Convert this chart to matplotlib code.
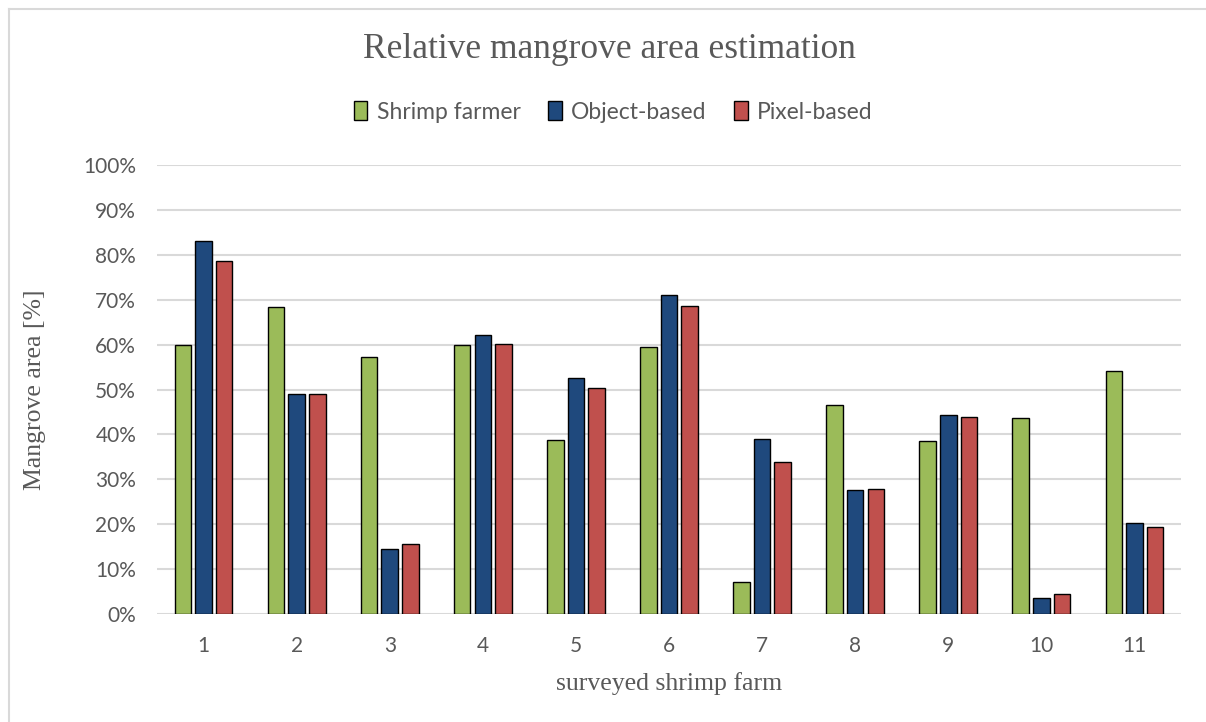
import matplotlib
matplotlib.use("Agg")
import matplotlib.pyplot as plt
from matplotlib.lines import Line2D
from matplotlib.patches import Patch
import numpy as np

categories = ["1", "2", "3", "4", "5", "6", "7", "8", "9", "10", "11"]
shrimp_farmer = [60.0, 68.4, 57.3, 60.0, 38.8, 59.5, 7.1, 46.5, 38.5, 43.7, 54.1]
object_based = [83.1, 49.1, 14.5, 62.1, 52.5, 71.0, 38.9, 27.6, 44.3, 3.5, 20.3]
pixel_based = [78.7, 48.9, 15.7, 60.1, 50.3, 68.7, 33.8, 27.8, 43.9, 4.4, 19.4]
series_names = ["Shrimp farmer", "Object-based", "Pixel-based"]
colors = ["#9BBB59", "#1F497D", "#C0504D"]
yticks = [0, 10, 20, 30, 40, 50, 60, 70, 80, 90, 100]
ytick_labels = [f"{v}%" for v in yticks]

W, H = 1206, 722
fig = plt.figure(figsize=(W / 100, H / 100), dpi=100)
fig.patch.set_facecolor("white")

ax = fig.add_axes([157 / W, 1 - 614 / H, (1181 - 157) / W, (614 - 165) / H])

x = np.arange(len(categories))
width = 0.178
offset = 0.222
for i, (vals, name, c) in enumerate(zip([shrimp_farmer, object_based, pixel_based], series_names, colors)):
    ax.bar(x + (i - 1) * offset, vals, width=width, color=c, edgecolor="black",
           linewidth=1.0, label=name, zorder=3)

ax.set_xlim(-0.5, len(categories) - 0.5)
ax.set_ylim(0, 100)
ax.set_yticks(yticks)
ax.set_yticklabels(ytick_labels)
ax.set_xticks(x)
ax.set_xticklabels(categories)

for s in ax.spines.values():
    s.set_visible(False)
ax.grid(axis="y", color="#D9D9D9", linewidth=1.5, zorder=0)
ax.set_axisbelow(True)
ax.tick_params(axis="both", length=0, labelsize=15, labelcolor="#595959")
ax.tick_params(axis="y", pad=15)
ax.tick_params(axis="x", pad=16)
for lab in ax.get_xticklabels() + ax.get_yticklabels():
    lab.set_family("Lato")

serif = ["Liberation Serif", "DejaVu Serif"]
fig.text(609 / W, 1 - 50 / H, "Relative mangrove area estimation", ha="center", va="center",
         fontsize=25.5, color="#595959", family=serif)
fig.text(669 / W, 1 - 684 / H, "surveyed shrimp farm", ha="center", va="center",
         fontsize=18.5, color="#595959", family=serif)
fig.text(35 / W, 1 - 390 / H, "Mangrove area [%]", ha="center", va="center", rotation=90,
         fontsize=18.5, color="#595959", family=serif)

handles = [Patch(facecolor=c, edgecolor="black", linewidth=1.0) for c in colors]
leg = fig.legend(handles, series_names, loc="center", bbox_to_anchor=(613 / W, 1 - 112 / H),
                 ncol=3, frameon=False, handlelength=0.6, handleheight=0.9, handletextpad=0.4,
                 columnspacing=1.2, prop={"family": "Lato", "size": 16.5})
for t in leg.get_texts():
    t.set_color("#595959")

# outer chart border
fig.add_artist(Line2D([9 / W, 9 / W], [0, 1 - 9 / H], color="#D9D9D9", linewidth=1.5,
                      transform=fig.transFigure))
fig.add_artist(Line2D([9 / W, 1], [1 - 9 / H, 1 - 9 / H], color="#D9D9D9", linewidth=1.5,
                      transform=fig.transFigure))

fig.savefig("out.png", dpi=100, facecolor="white")
